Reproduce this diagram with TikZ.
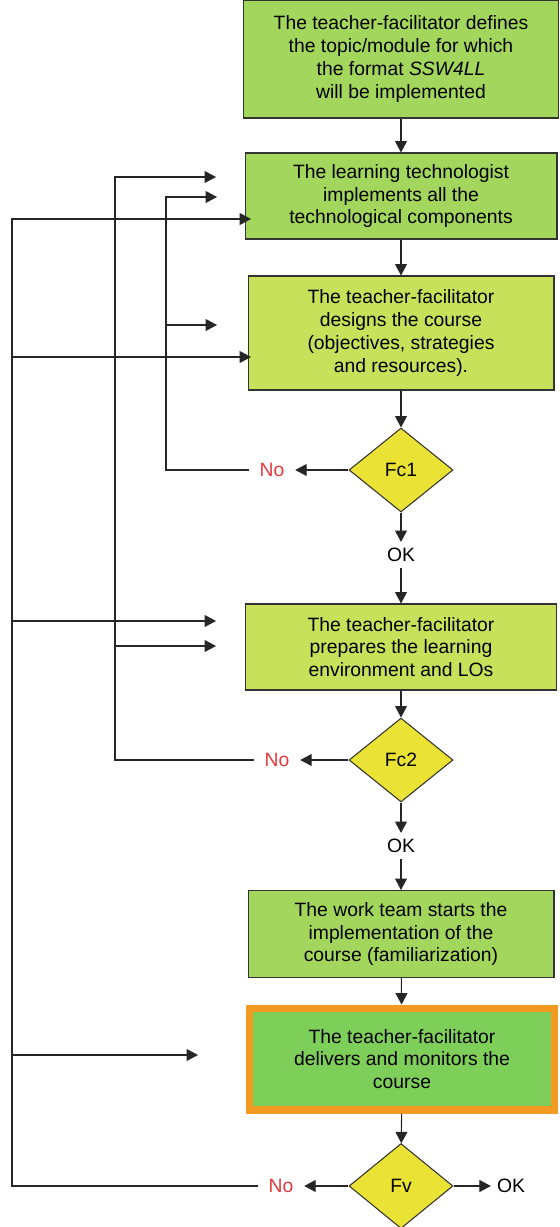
\documentclass[tikz,border=0pt]{standalone}
\usepackage{fontspec}
\setmainfont{Liberation Sans}
\usetikzlibrary{arrows.meta,shapes.geometric}
\definecolor{boxgreen}{HTML}{A3D65C}
\definecolor{boxlime}{HTML}{C8E15A}
\definecolor{boxdeep}{HTML}{7ECE5A}
\definecolor{frameorange}{HTML}{F39A23}
\definecolor{checkyellow}{HTML}{EAE234}
\definecolor{nored}{HTML}{E8383D}

\begin{document}
\begin{tikzpicture}[x=0.02cm, y=-0.02cm,
		font=\fontsize{11}{13}\selectfont,
		stepbox/.style={draw=black!80, line width=0.6pt, align=center, inner sep=0pt},
		check/.style={diamond, draw=black!80, line width=0.6pt, fill=checkyellow, inner sep=0pt, minimum width=2.08cm, minimum height=1.68cm},
		flow/.style={draw=black!85, line width=0.6pt, -{Triangle[length=6.5pt, width=6.8pt]}},
		nolabel/.style={text=nored, inner xsep=6pt}]
			%%%%% START %%%%%
			
			\useasboundingbox (0,0) rectangle (560,1227);
			
			% main column
			\node[stepbox, fill=boxgreen, minimum width=6.3cm, minimum height=2.36cm] (define) at (401,59) {The teacher-facilitator defines\\the topic/module for which\\the format \textit{SSW4LL}\\will be implemented};
			\node[stepbox, fill=boxgreen, minimum width=6.24cm, minimum height=1.72cm] (implement) at (401,196) {The learning technologist\\implements all the\\technological components};
			\node[stepbox, fill=boxlime, minimum width=6.12cm, minimum height=2.28cm] (design) at (401,333) {The teacher-facilitator\\designs the course\\(objectives, strategies\\and resources).};
			
			\node[check] (fc1) at (401,470) {Fc1};
			\node (ok1) at (401,555) {OK};
			\node[nolabel] (no1) at (272,470) {No};
			
			\node[stepbox, fill=boxlime, minimum width=6.22cm, minimum height=1.72cm] (prepare) at (401,647) {The teacher-facilitator\\prepares the learning\\environment and LOs};
			
			\node[check] (fc2) at (401,760) {Fc2};
			\node (ok2) at (401,846) {OK};
			\node[nolabel] (no2) at (277,760) {No};
			
			\node[stepbox, fill=boxgreen, minimum width=6.12cm, minimum height=1.74cm] (start) at (401,934) {The work team starts the\\implementation of the\\course (familiarization)};
			\node[stepbox, fill=boxdeep, draw=frameorange, line width=4pt, minimum width=6.1cm, minimum height=2.04cm] (deliver) at (402,1059) {The teacher-facilitator\\delivers and monitors the\\course};
			
			\node[check, minimum height=1.7cm] (fv) at (401,1186) {Fv};
			\node[nolabel] (no3) at (281,1186) {No};
			\node (ok3) at (511,1186) {OK};
			
			% downward flow
			\draw[flow] (define) -- (implement);
			\draw[flow] (implement) -- (design);
			\draw[flow] (design) -- (fc1);
			\draw[flow] (fc1) -- (ok1);
			\draw[flow] (ok1) -- (prepare);
			\draw[flow] (prepare) -- (fc2);
			\draw[flow] (fc2) -- (ok2);
			\draw[flow] (ok2) -- (start);
			\draw[flow] (start) -- (deliver);
			\draw[flow] (deliver) -- (fv);
			
			\draw[flow] (fc1) -- (no1);
			\draw[flow] (fc2) -- (no2);
			\draw[flow] (fv) -- (no3);
			\draw[flow] (fv) -- (ok3);
			
			% feedback rails
			\coordinate (railA) at (166,0);
			\coordinate (railB) at (115,0);
			\coordinate (railC) at (12,0);
			
			\coordinate (tipA1) at (217,197);
			\coordinate (tipA2) at (217,325);
			\coordinate (tipB1) at (216,177);
			\coordinate (tipB2) at (216,646);
			\coordinate (tipC1) at (251,219);
			\coordinate (tipC2) at (251,357);
			\coordinate (tipC3) at (216,621);
			\coordinate (tipC4) at (198,1055);
			
			\draw[flow] (no1.west) -| (railA |- tipA1) -- (tipA1);
			\draw[flow] (railA |- tipA2) -- (tipA2);
			
			\draw[flow] (no2.west) -| (railB |- tipB1) -- (tipB1);
			\draw[flow] (railB |- tipB2) -- (tipB2);
			
			\draw[flow] (no3.west) -| (railC |- tipC1) -- (tipC1);
			\draw[flow] (railC |- tipC2) -- (tipC2);
			\draw[flow] (railC |- tipC3) -- (tipC3);
			\draw[flow] (railC |- tipC4) -- (tipC4);
			
			%%%%% END %%%%%
\end{tikzpicture}
\end{document}
